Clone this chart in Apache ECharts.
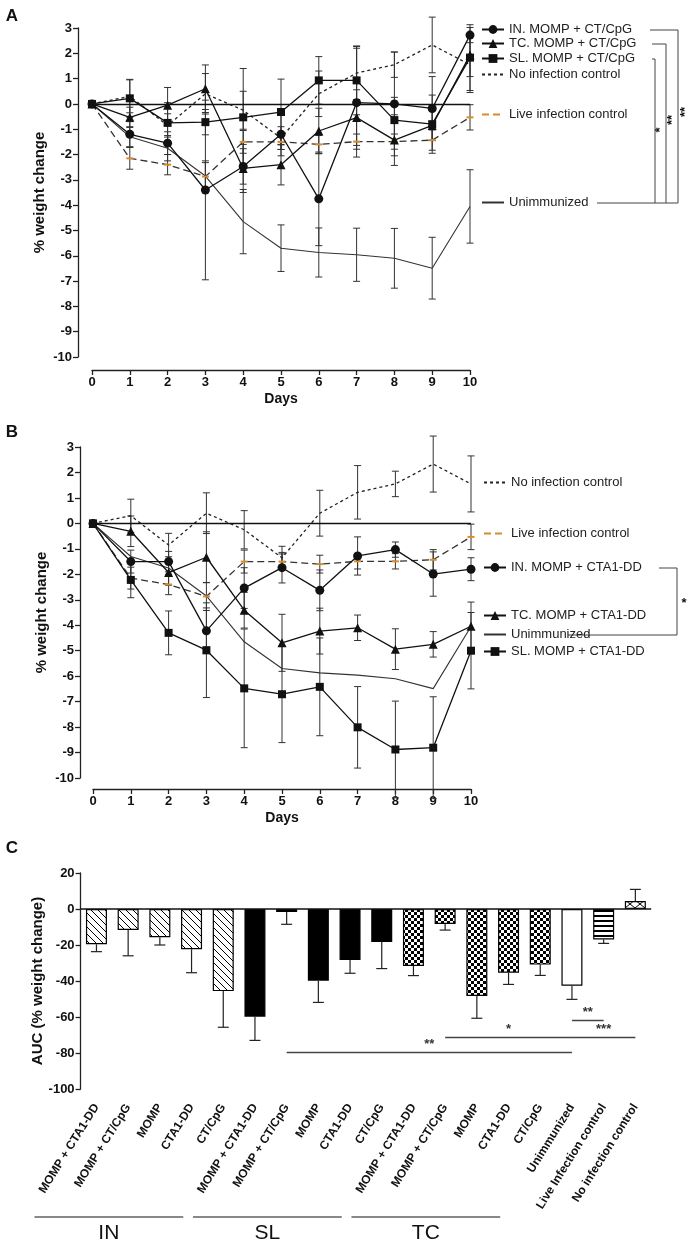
<!DOCTYPE html>
<html><head><meta charset="utf-8">
<script src="https://cdn.jsdelivr.net/npm/echarts@6/dist/echarts.min.js"></script>
<style>html,body{margin:0;padding:0;background:#fff}#c{width:693px;height:1245px}</style>
</head><body><div id="c"></div>
<script>
// ---------------- DATA ----------------
const days = [0,1,2,3,4,5,6,7,8,9,10];
// Panel A
const inA     = [0,-1.2,-1.55,-3.4,-2.47,-1.2,-3.75,0.05,0.0,-0.18,2.72];
const inAErr  = [0,0.5,0.45,3.55,0.7,0.85,1.85,2.15,2.05,1.26,0.3];
const tcA     = [0,-0.53,-0.05,0.6,-2.55,-2.4,-1.07,-0.54,-1.43,-0.85,1.93];
const tcAErr  = [0,0.4,0.7,0.94,0.95,0.8,0.9,1.1,1.0,0.6,0.85];
const slA     = [0,0.22,-0.75,-0.72,-0.53,-0.32,0.93,0.93,-0.64,-0.8,1.83];
const slAErr  = [0,0.75,0.8,0.5,1.93,1.3,0.94,1.36,0.9,1.15,1.3];
// Controls (shared by A and B)
const noInf     = [0,0.3,-0.85,0.4,-0.25,-1.35,0.4,1.22,1.55,2.33,1.55];
const noInfErr  = [0,0.65,0.46,0.8,0.75,0.45,0.9,1.05,0.5,1.1,1.1];
const live      = [0,-2.15,-2.4,-2.87,-1.5,-1.5,-1.6,-1.49,-1.49,-1.43,-0.53];
const liveErr   = [0,0.43,0.4,0.55,0.45,0.3,0.35,0.3,0.3,0.4,0.5];
const unimm     = [0,-1.3,-1.75,-2.85,-4.65,-5.7,-5.87,-5.96,-6.1,-6.49,-4.05];
const unimmErr  = [0,0.4,0.5,0.6,1.27,0.92,0.97,1.05,1.18,1.22,1.45];
// Panel B
const inB     = [0,-1.5,-1.5,-4.22,-2.54,-1.74,-2.63,-1.28,-1.03,-1.99,-1.8];
const inBErr  = [0,0.45,0.4,0.9,0.8,0.6,0.8,0.75,0.3,0.87,0.45];
const tcB     = [0,-0.31,-1.93,-1.33,-3.41,-4.69,-4.23,-4.1,-4.94,-4.75,-4.04];
const tcBErr  = [0,0.6,0.5,1.0,0.7,1.12,0.9,0.5,0.8,0.5,0.95];
const slB     = [0,-2.22,-4.3,-4.98,-6.48,-6.71,-6.42,-8.01,-8.88,-8.81,-5.0];
const slBErr  = [0,0.7,0.86,1.86,2.33,1.9,1.92,1.6,1.9,2.0,1.5];
// Panel C
const cLabels = ['MOMP + CTA1-DD','MOMP + CT/CpG','MOMP','CTA1-DD','CT/CpG',
                 'MOMP + CTA1-DD','MOMP + CT/CpG','MOMP','CTA1-DD','CT/CpG',
                 'MOMP + CTA1-DD','MOMP + CT/CpG','MOMP','CTA1-DD','CT/CpG',
                 'Unimmunized','Live Infection control','No infection control'];
const cValues = [-19.6,-11.7,-15.7,-22.4,-45.6,-59.8,-1.7,-39.8,-28.3,-18.3,-31.7,-8.3,-48.3,-35.4,-30.9,-42.6,-16.9,4.4];
const cErr    = [4.1,14.3,4.3,13,20.1,13.2,6.8,12.1,7.4,14.8,5.3,3.4,12.4,6.5,6,7.6,2.2,6.5];
const cFill   = ['hatch','hatch','hatch','hatch','hatch','solid','solid','solid','solid','solid',
                 'checker','checker','checker','checker','checker','white','stripes','cross'];
const cGroups = [{name:'IN',from:0,to:4},{name:'SL',from:5,to:9},{name:'TC',from:10,to:14}];
const cSig    = [{from:6,to:15,y:-79.4,text:'**'},{from:11,to:15,y:-71.2,text:'*'},
                 {from:15,to:16,y:-61.7,text:'**'},{from:15.12,to:17,y:-71.2,text:'***'}];

// ---------------- STYLE ----------------
const FONT = 'Liberation Sans';
const INK = '#111';
const ORANGE = '#d98c2b';

function pairs(arr){ return days.map((d,i)=>[d,arr[i]]); }
function errData(vals, errs){
  const out=[]; days.forEach((d,i)=>{ if(errs[i]>0) out.push([d, vals[i]-errs[i], vals[i]+errs[i]]); }); return out;
}
function errSeries(vals, errs, xi, yi){
  return {type:'custom', coordinateSystem:'cartesian2d', xAxisIndex:xi, yAxisIndex:yi, z:1, silent:true, clip:false,
    encode:{x:0,y:[1,2]}, data: errData(vals, errs),
    renderItem:function(params, api){
      const x=api.value(0), lo=api.value(1), hi=api.value(2);
      const p1=api.coord([x,lo]), p2=api.coord([x,hi]); const w=3.5;
      const st={stroke:'#333', lineWidth:1};
      return {type:'group', children:[
        {type:'line', shape:{x1:p1[0],y1:p1[1],x2:p2[0],y2:p2[1]}, style:st},
        {type:'line', shape:{x1:p1[0]-w,y1:p1[1],x2:p1[0]+w,y2:p1[1]}, style:st},
        {type:'line', shape:{x1:p2[0]-w,y1:p2[1],x2:p2[0]+w,y2:p2[1]}, style:st}]};
    }};
}
function markerLine(name, vals, xi, yi, symbol, size){
  return {type:'line', name:name, xAxisIndex:xi, yAxisIndex:yi, data:pairs(vals), z:3, clip:false,
    symbol:symbol, symbolSize:size, showSymbol:true,
    itemStyle:{color:INK}, lineStyle:{color:INK, width:1.3}};
}
function noInfSeries(xi, yi){
  return {type:'line', name:'No infection control', xAxisIndex:xi, yAxisIndex:yi, data:pairs(noInf), z:2,
    symbol:'none', lineStyle:{color:'#222', width:1.3, type:[3,3]}, itemStyle:{color:'#222'}};
}
function liveSeries(xi, yi){
  return {type:'line', name:'Live infection control', xAxisIndex:xi, yAxisIndex:yi, data:pairs(live), z:2,
    symbol:'rect', symbolSize:[7,2], itemStyle:{color:ORANGE}, lineStyle:{color:'#333', width:1.3, type:[7,4]}};
}
function unimmSeries(xi, yi){
  return {type:'line', name:'Unimmunized', xAxisIndex:xi, yAxisIndex:yi, data:pairs(unimm), z:2,
    symbol:'none', lineStyle:{color:'#333', width:1.1}, itemStyle:{color:'#333'},
    markLine:{silent:true, symbol:['none','none'], label:{show:false},
      lineStyle:{color:INK, width:1.3, type:'solid'}, data:[{yAxis:0}]}};
}
function valX(gi, off){
  return {type:'value', gridIndex:gi, min:0, max:10, interval:1, offset:off,
    name:'Days', nameLocation:'middle', nameGap:22, nameMoveOverlap:false,
    nameTextStyle:{fontWeight:'bold', fontSize:14, color:INK, fontFamily:FONT},
    axisLine:{onZero:false, lineStyle:{color:'#222', width:1.3}},
    axisTick:{length:5, lineStyle:{color:'#222', width:1.3}},
    axisLabel:{fontWeight:'bold', fontSize:13, color:INK, margin:6, fontFamily:FONT},
    splitLine:{show:false}};
}
function valY(gi, off){
  return {type:'value', gridIndex:gi, min:-10, max:3, interval:1, offset:off,
    name:'% weight change', nameLocation:'middle', nameGap:31, nameMoveOverlap:false,
    nameTextStyle:{fontWeight:'bold', fontSize:15, color:INK, fontFamily:FONT},
    axisLine:{onZero:false, lineStyle:{color:'#222', width:1.3}},
    axisTick:{length:5, lineStyle:{color:'#222', width:1.3}},
    axisLabel:{fontWeight:'bold', fontSize:13, color:INK, margin:6, fontFamily:FONT},
    splitLine:{show:false}};
}
function legendAt(name, left, cy, noSymbol, lineColor){
  const l = {data:[name], left:left, top:cy-7, padding:0, itemWidth:22, itemHeight:11, selectedMode:false,
    textStyle:{fontSize:13, color:'#222', fontFamily:FONT}};
  if (noSymbol) l.itemStyle = {opacity:0};
  if (lineColor) l.lineStyle = {color:lineColor};
  return l;
}

// patterns
function mk(w,h,draw){ const c=document.createElement('canvas'); c.width=w; c.height=h; const x=c.getContext('2d');
  x.fillStyle='#fff'; x.fillRect(0,0,w,h); x.strokeStyle='#000'; x.fillStyle='#000'; draw(x); return c; }
const patterns = {
  hatch: {image: mk(7,7,x=>{x.lineWidth=1; x.beginPath(); x.moveTo(-1,-1); x.lineTo(8,8); x.moveTo(-1,6); x.lineTo(1,8); x.moveTo(6,-1); x.lineTo(8,1); x.stroke();}), repeat:'repeat'},
  checker: {image: mk(6,6,x=>{x.fillRect(0,0,3,3); x.fillRect(3,3,3,3);}), repeat:'repeat'},
  stripes: {image: mk(4,5,x=>{x.fillRect(0,0,4,2);}), repeat:'repeat'},
  cross: {image: mk(10,8,x=>{x.lineWidth=1; x.beginPath(); x.moveTo(0,0); x.lineTo(10,8); x.moveTo(0,8); x.lineTo(10,0); x.stroke();}), repeat:'repeat'},
  solid: '#000', white: '#fff'
};

const chart = echarts.init(document.getElementById('c'), null, {width:693, height:1245});

const barData = cValues.map((v,i)=>({value:v, itemStyle:{color:patterns[cFill[i]]}}));
const cErrData = cValues.map((v,i)=>[i, v, v<0 ? v-cErr[i] : v+cErr[i]]);
const sigData = cSig.map(s=>[{coord:[s.from, s.y], label:{formatter:s.text}}, {coord:[s.to, s.y]}]);

const option = {
  animation:false,
  textStyle:{fontFamily:FONT},
  grid:[
    {left:92, top:28, width:378, height:329},
    {left:93, top:447, width:378, height:331},
    {left:80.6, top:873, width:570.6, height:216}
  ],
  xAxis:[
    valX(0,13), valX(1,11),
    {type:'category', gridIndex:2, data:cLabels, position:'bottom', boundaryGap:true,
      axisLine:{show:false, onZero:false}, axisTick:{show:false},
      axisLabel:{interval:0, rotate:58, margin:16, fontSize:12, fontWeight:'bold', color:INK, fontFamily:FONT}}
  ],
  yAxis:[
    valY(0,14), valY(1,13),
    {type:'value', gridIndex:2, min:-100, max:20, interval:20,
      name:'AUC (% weight change)', nameLocation:'middle', nameGap:35, nameMoveOverlap:false,
      nameTextStyle:{fontWeight:'bold', fontSize:15, color:INK, fontFamily:FONT},
      axisLine:{show:true, onZero:false, lineStyle:{color:'#222', width:1.3}},
      axisTick:{show:true, length:5, lineStyle:{color:'#222', width:1.3}},
      axisLabel:{fontWeight:'bold', fontSize:13, color:INK, margin:6, fontFamily:FONT},
      splitLine:{show:false}}
  ],
  legend:[
    legendAt('IN. MOMP + CT/CpG', 481, 30),
    legendAt('TC. MOMP + CT/CpG', 481, 44),
    legendAt('SL. MOMP + CT/CpG', 481, 59),
    legendAt('No infection control', 481, 75, true),
    legendAt('Live infection control', 481, 115, true, ORANGE),
    legendAt('Unimmunized', 481, 203, true),
    legendAt('No infection control', 483, 483, true),
    legendAt('Live infection control', 483, 534, true, ORANGE),
    legendAt('IN. MOMP + CTA1-DD', 483, 568),
    legendAt('TC. MOMP + CTA1-DD', 483, 616),
    legendAt('Unimmunized', 483, 635, true),
    legendAt('SL. MOMP + CTA1-DD', 483, 652)
  ],
  series:[
    // Panel A
    errSeries(unimm, unimmErr, 0, 0), errSeries(noInf, noInfErr, 0, 0), errSeries(live, liveErr, 0, 0),
    errSeries(inA, inAErr, 0, 0), errSeries(tcA, tcAErr, 0, 0), errSeries(slA, slAErr, 0, 0),
    unimmSeries(0,0), noInfSeries(0,0), liveSeries(0,0),
    markerLine('IN. MOMP + CT/CpG', inA, 0, 0, 'circle', 9),
    markerLine('TC. MOMP + CT/CpG', tcA, 0, 0, 'triangle', 9),
    markerLine('SL. MOMP + CT/CpG', slA, 0, 0, 'rect', 8),
    // Panel B
    errSeries(noInf, noInfErr, 1, 1), errSeries(live, liveErr, 1, 1),
    errSeries(inB, inBErr, 1, 1), errSeries(tcB, tcBErr, 1, 1), errSeries(slB, slBErr, 1, 1),
    unimmSeries(1,1), noInfSeries(1,1), liveSeries(1,1),
    markerLine('IN. MOMP + CTA1-DD', inB, 1, 1, 'circle', 9),
    markerLine('TC. MOMP + CTA1-DD', tcB, 1, 1, 'triangle', 9),
    markerLine('SL. MOMP + CTA1-DD', slB, 1, 1, 'rect', 8),
    // Panel C
    {type:'bar', name:'AUC', xAxisIndex:2, yAxisIndex:2, data:barData, barWidth:21, z:2,
      itemStyle:{borderColor:'#000', borderWidth:1.2},
      markLine:{silent:true, symbol:['none','none'], z:5,
        lineStyle:{color:'#444', width:1.3, type:'solid'},
        label:{position:'middle', distance:1, fontSize:13, fontWeight:'bold', color:'#333', fontFamily:FONT},
        data:[{yAxis:0, label:{show:false}, lineStyle:{color:INK, width:1.5}}].concat(sigData)}},
    {type:'custom', coordinateSystem:'cartesian2d', xAxisIndex:2, yAxisIndex:2, z:1, silent:true, clip:false,
      encode:{x:0,y:[1,2]}, data:cErrData,
      renderItem:function(params, api){
        const i=api.value(0); const p1=api.coord([i,api.value(1)]), p2=api.coord([i,api.value(2)]); const w=5.5;
        const st={stroke:'#222', lineWidth:1.2};
        return {type:'group', children:[
          {type:'line', shape:{x1:p1[0],y1:p1[1],x2:p2[0],y2:p2[1]}, style:st},
          {type:'line', shape:{x1:p2[0]-w,y1:p2[1],x2:p2[0]+w,y2:p2[1]}, style:st}]};
      }}
  ]
};
chart.setOption(option);

// ---------------- ANNOTATIONS ----------------
const G = [];
function txt(t, x, y, size, weight, extra){
  return Object.assign({type:'text', x:x, y:y, style:{text:t, fontSize:size, fontWeight:weight||'normal', fontFamily:FONT, fill:'#111', align:'center', verticalAlign:'middle'}}, extra||{});
}
function ln(x1,y1,x2,y2,color,w){ return {type:'line', shape:{x1:x1,y1:y1,x2:x2,y2:y2}, style:{stroke:color||'#444', lineWidth:w||1}}; }
G.push(txt('A', 12, 16, 17, 'bold'));
G.push(txt('B', 12, 432, 17, 'bold'));
G.push(txt('C', 12, 848, 17, 'bold'));
// Panel A significance brackets
G.push(ln(650,30,678,30), ln(678,30,678,203));
G.push(ln(652,44,666,44), ln(666,44,666,203));
G.push(ln(652,59,655,59), ln(655,59,655,203));
G.push(ln(597,203,678,203));
G.push(txt('*', 660, 130, 13, 'bold', {rotation:Math.PI/2}));
G.push(txt('**', 672, 120, 13, 'bold', {rotation:Math.PI/2}));
G.push(txt('**', 685, 112, 13, 'bold', {rotation:Math.PI/2}));
// Panel B bracket
G.push(ln(659,568,677,568), ln(677,568,677,635), ln(568,635,677,635));
G.push(txt('*', 684, 603, 13, 'bold'));
// Panel C group underlines
cGroups.forEach(g=>{
  const a = chart.convertToPixel({xAxisIndex:2}, g.from) - 62;
  const b = chart.convertToPixel({xAxisIndex:2}, g.to) - 40;
  G.push(ln(a,1217,b,1217,'#888',2));
  G.push(txt(g.name, (a+b)/2, 1233, 21, 'normal'));
});
chart.setOption({graphic:G});
</script>
</body></html>
